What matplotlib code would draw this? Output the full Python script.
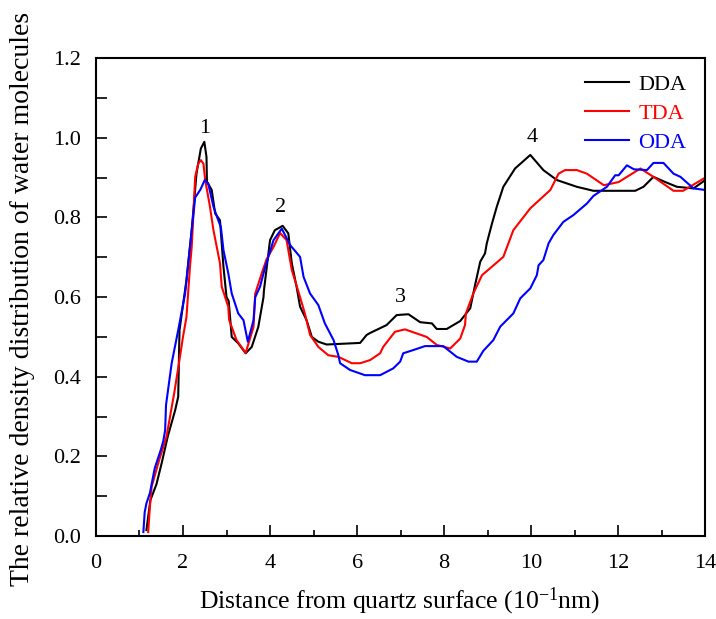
import matplotlib
matplotlib.use("Agg")
import matplotlib.pyplot as plt
from matplotlib.ticker import MultipleLocator

plt.rcParams['font.family'] = ['Liberation Serif', 'DejaVu Serif']
plt.rcParams['mathtext.fontset'] = 'custom'
plt.rcParams['mathtext.rm'] = 'Liberation Serif'
plt.rcParams['mathtext.it'] = 'Liberation Serif:italic'

# ---- data ----
dda_x = [1.16, 1.25, 1.39, 1.51, 1.65, 1.82, 1.89, 1.92, 2.0, 2.08, 2.2, 2.31, 2.41, 2.49, 2.54, 2.55,
         2.66, 2.74, 2.85, 2.93, 3.0, 3.05, 3.12, 3.27, 3.44, 3.58, 3.73, 3.85, 3.86, 4.0, 4.11, 4.29,
         4.42, 4.5, 4.61, 4.69, 4.84, 4.96, 5.11, 5.30, 6.07, 6.22, 6.30, 6.53, 6.68, 6.91, 7.18, 7.45,
         7.72, 7.83, 8.06, 8.37, 8.60, 8.71, 8.83, 8.94, 8.98, 9.10, 9.21, 9.36, 9.63, 9.98, 10.28,
         10.59, 11.05, 11.43, 12.39, 12.58, 12.81, 13.08, 13.35, 13.73, 14.0]
dda_y = [0.015, 0.09, 0.13, 0.183, 0.25, 0.316, 0.35, 0.517, 0.58, 0.643, 0.768, 0.91, 0.973, 0.99, 0.952, 0.89,
         0.869, 0.81, 0.793, 0.676, 0.60, 0.59, 0.50, 0.484, 0.459, 0.475, 0.525, 0.60, 0.617, 0.743, 0.768, 0.779,
         0.76, 0.685, 0.626, 0.576, 0.542, 0.50, 0.488, 0.481, 0.485, 0.505, 0.51, 0.522, 0.53, 0.555, 0.557, 0.537,
         0.534, 0.52, 0.52, 0.540, 0.572, 0.630, 0.689, 0.71, 0.735, 0.785, 0.827, 0.877, 0.923, 0.957, 0.919,
         0.894, 0.877, 0.867, 0.867, 0.877, 0.902, 0.889, 0.877, 0.873, 0.894]

tda_x = [1.20, 1.24, 1.28, 1.45, 1.62, 1.80, 1.93, 2.0, 2.08, 2.16, 2.20, 2.24, 2.28, 2.35, 2.41, 2.47, 2.51,
         2.62, 2.70, 2.85, 2.89, 3.04, 3.06, 3.23, 3.44, 3.62, 3.66, 3.81, 3.92, 4.08, 4.23, 4.38, 4.5, 4.69,
         4.80, 4.92, 5.11, 5.34, 5.57, 5.88, 6.07, 6.30, 6.53, 6.60, 6.87, 7.10, 7.60, 7.83, 8.14, 8.37, 8.48,
         8.50, 8.67, 8.87, 9.36, 9.59, 9.98, 10.44, 10.63, 10.78, 11.05, 11.28, 11.67, 12.01, 12.51, 12.81,
         13.27, 13.49, 14.0]
tda_y = [0.01, 0.074, 0.124, 0.19, 0.249, 0.36, 0.45, 0.50, 0.55, 0.676, 0.726, 0.81, 0.902, 0.935, 0.944, 0.935, 0.894,
         0.827, 0.768, 0.685, 0.626, 0.576, 0.543, 0.492, 0.46, 0.525, 0.609, 0.66, 0.695, 0.726, 0.761, 0.743, 0.668, 0.60,
         0.559, 0.505, 0.475, 0.454, 0.45, 0.434, 0.434, 0.442, 0.459, 0.475, 0.513, 0.519, 0.50, 0.48, 0.471, 0.496, 0.53,
         0.559, 0.609, 0.655, 0.701, 0.768, 0.823, 0.869, 0.91, 0.919, 0.919, 0.91, 0.881, 0.889, 0.923, 0.902,
         0.867, 0.867, 0.90]

oda_x = [1.09, 1.12, 1.16, 1.24, 1.35, 1.50, 1.55, 1.59, 1.61, 1.74, 1.89, 2.05, 2.20, 2.28, 2.40, 2.50, 2.58,
         2.70, 2.81, 2.87, 2.93, 3.04, 3.12, 3.27, 3.39, 3.49, 3.62, 3.66, 3.77, 3.89, 4.08, 4.27, 4.46, 4.69,
         4.77, 4.92, 5.11, 5.26, 5.46, 5.57, 5.61, 5.84, 6.18, 6.53, 6.83, 6.99, 7.06, 7.29, 7.56, 7.98, 8.29,
         8.56, 8.75, 8.90, 9.13, 9.29, 9.59, 9.75, 9.98, 10.13, 10.17, 10.28, 10.40, 10.51, 10.74, 10.97,
         11.28, 11.43, 11.74, 11.93, 12.01, 12.20, 12.36, 12.66, 12.81, 13.04, 13.27, 13.43, 13.73, 14.0]
oda_y = [0.01, 0.06, 0.082, 0.108, 0.17, 0.22, 0.24, 0.266, 0.329, 0.434, 0.517, 0.61, 0.768, 0.85, 0.87, 0.894, 0.885,
         0.827, 0.793, 0.776, 0.718, 0.66, 0.609, 0.559, 0.542, 0.488, 0.542, 0.60, 0.626, 0.676, 0.743, 0.772, 0.731, 0.701,
         0.651, 0.609, 0.58, 0.534, 0.492, 0.454, 0.434, 0.417, 0.404, 0.404, 0.421, 0.438, 0.459, 0.467, 0.477, 0.477, 0.45,
         0.438, 0.438, 0.465, 0.492, 0.526, 0.559, 0.597, 0.622, 0.655, 0.68, 0.693, 0.735, 0.756, 0.789, 0.806,
         0.835, 0.854, 0.877, 0.906, 0.906, 0.931, 0.921, 0.919, 0.937, 0.937, 0.91, 0.902, 0.873, 0.869]

series_names = ['DDA', 'TDA', 'ODA']
peak_labels = ['1', '2', '3', '4']
peak_x = [2.49, 4.25, 6.99, 10.02]
peak_y = [1.012, 0.813, 0.588, 0.99]

# ---- plot ----
fig = plt.figure(figsize=(7.16, 6.19), dpi=100)
ax = fig.add_axes([0.134, 0.134, 0.851, 0.772])

colors = ['black', '#ff0000', '#0000ff']
for xs, ys, name, c in zip([dda_x, tda_x, oda_x], [dda_y, tda_y, oda_y], series_names, colors):
    ax.plot(xs, ys, color=c, lw=1.5, label=name)

for lab, px, py in zip(peak_labels, peak_x, peak_y):
    ax.text(px, py, lab, ha='center', va='baseline', fontsize=16)

ax.set_xlim(0, 14)
ax.set_ylim(0, 1.2)
ax.xaxis.set_major_locator(MultipleLocator(2))
ax.xaxis.set_minor_locator(MultipleLocator(1))
ax.yaxis.set_major_locator(MultipleLocator(0.2))
ax.yaxis.set_minor_locator(MultipleLocator(0.1))
ax.set_yticks([0.0, 0.2, 0.4, 0.6, 0.8, 1.0, 1.2])
ax.set_yticklabels(['0.0', '0.2', '0.4', '0.6', '0.8', '1.0', '1.2'])
ax.tick_params(axis='both', which='major', direction='in', length=8, width=1.2, labelsize=16)
ax.tick_params(axis='x', which='major', pad=13)
ax.tick_params(axis='y', which='major', pad=11)
ax.tick_params(axis='x', which='minor', direction='in', length=4, width=1.2)
ax.tick_params(axis='y', which='minor', direction='in', length=8, width=1.2)
for s in ax.spines.values():
    s.set_linewidth(1.5)

ax.set_xlabel(r'Distance from quartz surface (10$^{-1}$nm)', fontsize=18.5)
ax.set_ylabel('The relative density distribution of water molecules', fontsize=20)
ax.xaxis.set_label_coords(0.499, -0.104)
ax.yaxis.set_label_coords(-0.100, 0.497)

leg = ax.legend(loc='upper right', frameon=False, fontsize=16, handlelength=2.0,
                handletextpad=0.4, borderpad=0, borderaxespad=0,
                bbox_to_anchor=(0.969, 0.967), labelspacing=0.38)
for t, c in zip(leg.get_texts(), colors):
    t.set_color(c)

fig.savefig('out.png', dpi=100)
